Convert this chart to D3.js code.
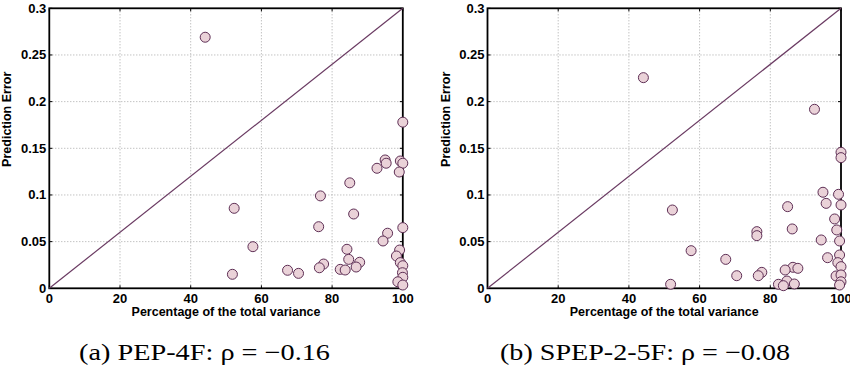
<!DOCTYPE html>
<html>
<head>
<meta charset="utf-8">
<script src="https://cdn.jsdelivr.net/npm/d3@7"></script>
<style>
  body { margin: 0; background: #fff; }
  svg { display: block; }
  .tick-label { font-family: "Liberation Sans", Arial, sans-serif; font-weight: bold; font-size: 13px; fill: #000; }
  .axis-title { font-family: "Liberation Sans", Arial, sans-serif; font-weight: bold; font-size: 12.5px; fill: #000; }
  .caption { font-family: "Liberation Serif", "DejaVu Serif", serif; font-size: 23px; fill: #000; }
</style>
</head>
<body>
<div id="chart"></div>
<script>
// ticks
const xTicks = [0, 20, 40, 60, 80, 100];
const yTicks = [0, 0.05, 0.1, 0.15, 0.2, 0.25, 0.3];
const yTickLabels = ["0", "0.05", "0.1", "0.15", "0.2", "0.25", "0.3"];

// (a) PEP-4F
const pepVariance = [44.1, 100, 92.7, 95.0, 95.3, 99.3, 100, 99.0, 85.0, 76.7, 52.3, 86.1, 76.2, 100, 95.7, 94.4,
  57.6, 84.2, 99.1, 98.2, 84.7, 87.8, 77.6, 76.4, 86.8, 99.3, 100, 67.4, 70.5, 82.3, 83.7, 51.8, 99.9, 100, 98.6, 100];
const pepError = [0.269, 0.178, 0.1286, 0.1375, 0.134, 0.1364, 0.134, 0.1246, 0.113, 0.099, 0.0857, 0.0796, 0.066, 0.065, 0.059, 0.0507,
  0.0446, 0.0418, 0.041, 0.0346, 0.031, 0.0279, 0.026, 0.022, 0.0228, 0.0275, 0.0242, 0.0193, 0.016, 0.0203, 0.0196, 0.015, 0.0167, 0.0118, 0.007, 0.0035];

// (b) SPEP-2-5F
const spepVariance = [44.1, 92.5, 100, 100, 94.9, 99.3, 95.8, 100, 84.9, 52.3, 98.2, 98.8, 86.2, 76.2, 76.2, 94.4, 99.6,
  57.6, 99.6, 96.2, 67.4, 99.1, 100, 86.4, 87.8, 84.2, 77.6, 76.6, 70.5, 98.6, 100, 84.7, 86.8, 82.3, 83.7, 51.8, 100, 99.6];
const spepError = [0.2257, 0.1918, 0.1457, 0.14, 0.1029, 0.1007, 0.091, 0.0893, 0.0875, 0.0839, 0.0743, 0.0625, 0.0636, 0.0607, 0.0564, 0.0518, 0.0507,
  0.0403, 0.0357, 0.0328, 0.031, 0.0275, 0.0232, 0.0225, 0.0214, 0.0196, 0.0171, 0.0135, 0.0135, 0.0132, 0.0143, 0.0078, 0.0046, 0.0043, 0.0028, 0.0043, 0.007, 0.0035];

const captions = ["(a) PEP-4F: \u03C1 = \u22120.16", "(b) SPEP-2-5F: \u03C1 = \u22120.08"];

const svg = d3.select("#chart").append("svg")
  .attr("width", 850)
  .attr("height", 371);

function drawPanel(left, xs, ys, caption, capX, capW) {
  let width = 353.5, height = 280, top = 8.3;
  let g = svg.append("g").attr("transform", "translate(" + left + "," + top + ")");

  let x = d3.scaleLinear().domain([0, 100]).range([0, width]);
  let y = d3.scaleLinear().domain([0, 0.3]).range([height, 0]);

  // dotted grid
  g.selectAll(".vgrid").data(xTicks.slice(1, -1)).enter().append("line")
    .attr("x1", d => x(d)).attr("x2", d => x(d))
    .attr("y1", 0).attr("y2", height)
    .attr("stroke", "#a8a8a8").attr("stroke-width", 1)
    .attr("stroke-dasharray", "1,2");
  g.selectAll(".hgrid").data(yTicks.slice(1, -1)).enter().append("line")
    .attr("y1", d => y(d)).attr("y2", d => y(d))
    .attr("x1", 0).attr("x2", width)
    .attr("stroke", "#a8a8a8").attr("stroke-width", 1)
    .attr("stroke-dasharray", "1,2");

  // inward ticks on all four sides
  let tl = 3;
  xTicks.forEach(t => {
    g.append("line").attr("x1", x(t)).attr("x2", x(t)).attr("y1", height).attr("y2", height - tl).attr("stroke", "#000");
    g.append("line").attr("x1", x(t)).attr("x2", x(t)).attr("y1", 0).attr("y2", tl).attr("stroke", "#000");
  });
  yTicks.forEach(t => {
    g.append("line").attr("y1", y(t)).attr("y2", y(t)).attr("x1", 0).attr("x2", tl).attr("stroke", "#000");
    g.append("line").attr("y1", y(t)).attr("y2", y(t)).attr("x1", width).attr("x2", width - tl).attr("stroke", "#000");
  });

  // box
  g.append("rect")
    .attr("x", 0).attr("y", 0).attr("width", width).attr("height", height)
    .attr("fill", "none").attr("stroke", "#000").attr("stroke-width", 1.8);

  // diagonal
  g.append("line")
    .attr("x1", x(0)).attr("y1", y(0)).attr("x2", x(100)).attr("y2", y(0.3))
    .attr("stroke", "#6a3a62").attr("stroke-width", 1.2);

  // tick labels
  g.selectAll(".xl").data(xTicks).enter().append("text")
    .attr("class", "tick-label")
    .attr("x", d => x(d)).attr("y", height + 15)
    .attr("text-anchor", "middle")
    .text(d => d);
  g.selectAll(".yl").data(yTicks).enter().append("text")
    .attr("class", "tick-label")
    .attr("x", -3).attr("y", d => y(d) + 4.5)
    .attr("text-anchor", "end")
    .text((d, i) => yTickLabels[i]);

  // axis titles
  g.append("text")
    .attr("class", "axis-title")
    .attr("x", width / 2).attr("y", height + 28)
    .attr("text-anchor", "middle")
    .text("Percentage of the total variance");
  g.append("text")
    .attr("class", "axis-title")
    .attr("transform", "translate(-38," + 111 + ") rotate(-90)")
    .attr("text-anchor", "middle")
    .text("Prediction Error");

  // points
  let pts = xs.map((v, i) => ({x: v, y: ys[i]}));
  g.selectAll("circle").data(pts).enter().append("circle")
    .attr("cx", d => x(d.x)).attr("cy", d => y(d.y))
    .attr("r", 5)
    .attr("fill", "#ead2d8")
    .attr("stroke", "#5e2f55")
    .attr("stroke-width", 1);

  // caption
  svg.append("text")
    .attr("class", "caption")
    .attr("x", capX).attr("y", 360)
    .attr("text-anchor", "middle")
    .attr("textLength", capW)
    .attr("lengthAdjust", "spacingAndGlyphs")
    .text(caption);
}

drawPanel(49.3, pepVariance, pepError, captions[0], 204.5, 251);
drawPanel(487.5, spepVariance, spepError, captions[1], 645, 290);
</script>
</body>
</html>
